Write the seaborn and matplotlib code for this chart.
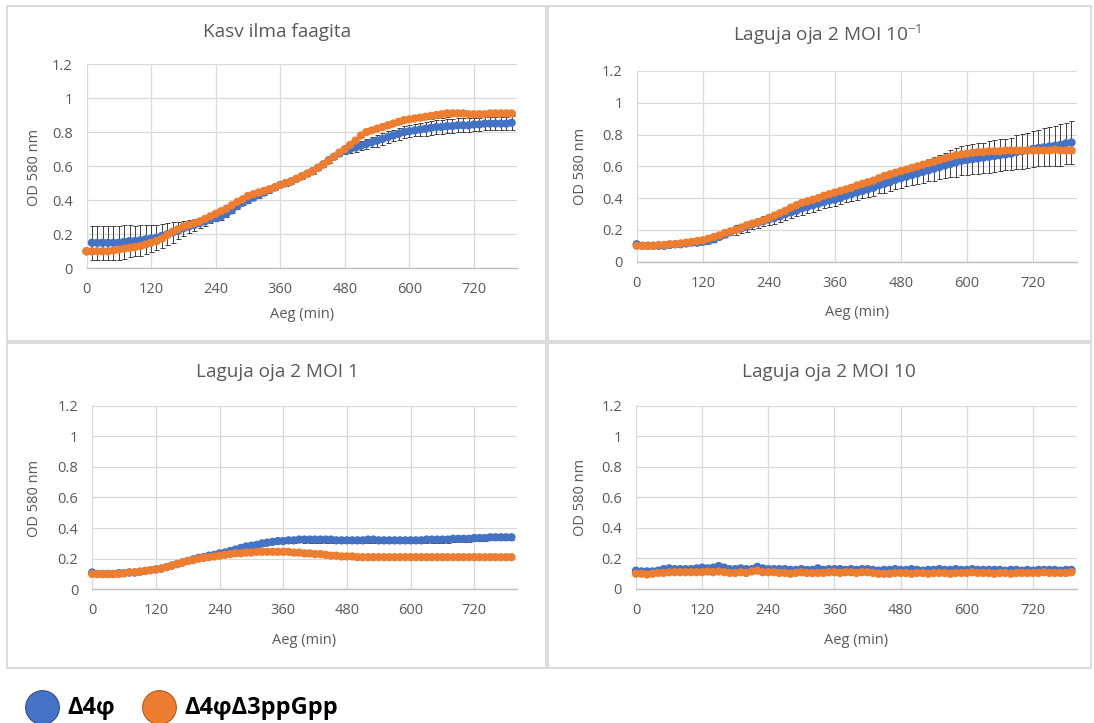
import numpy as np
import pandas as pd
import matplotlib
matplotlib.use("Agg")
import matplotlib.pyplot as plt
import seaborn as sns
from matplotlib.patches import Rectangle

sns.set_theme(style="white")
plt.rcParams['font.family'] = ['Open Sans', 'DejaVu Sans']
plt.rcParams['mathtext.fontset'] = 'custom'
plt.rcParams['mathtext.rm'] = 'Open Sans'

# ---------------- data ----------------
time_min = list(range(0, 800, 10))
strains = ["Δ4φ", "Δ4φΔ3ppGpp"]
colors = ["#4472C4", "#ED7D31"]
titles = ["Kasv ilma faagita", "Laguja oja 2 MOI 10$^{\\mathregular{-1}}$",
          "Laguja oja 2 MOI 1", "Laguja oja 2 MOI 10"]
x_ticks = [0, 120, 240, 360, 480, 600, 720]
x_ticklabels = ["0", "120", "240", "360", "480", "600", "720"]
y_ticks = [0, 0.2, 0.4, 0.6, 0.8, 1.0, 1.2]
y_ticklabels = ["0", "0.2", "0.4", "0.6", "0.8", "1", "1.2"]

p1_blue = [0.10, 0.15, 0.15, 0.15, 0.15, 0.15, 0.15, 0.155, 0.16, 0.16,
           0.165, 0.17, 0.175, 0.18, 0.19, 0.20, 0.21, 0.22, 0.235, 0.245,
           0.255, 0.265, 0.275, 0.285, 0.295, 0.305, 0.32, 0.34, 0.365, 0.385,
           0.40, 0.415, 0.43, 0.445, 0.46, 0.475, 0.49, 0.50, 0.51, 0.525,
           0.54, 0.555, 0.57, 0.59, 0.61, 0.635, 0.655, 0.675, 0.69, 0.70,
           0.71, 0.72, 0.73, 0.74, 0.75, 0.76, 0.77, 0.78, 0.79, 0.80,
           0.805, 0.81, 0.815, 0.82, 0.825, 0.83, 0.83, 0.835, 0.835, 0.84,
           0.84, 0.84, 0.845, 0.845, 0.85, 0.85, 0.85, 0.85, 0.85, 0.855]
p1_blue_err = [0.0, 0.10, 0.10, 0.10, 0.10, 0.10, 0.10, 0.10, 0.095, 0.09,
               0.09, 0.085, 0.08, 0.075, 0.07, 0.065, 0.06, 0.05, 0.045, 0.04,
               0.035, 0.03, 0.025, 0.02, 0.02, 0.02, 0.02, 0.015, 0.015, 0.015,
               0.015, 0.015, 0.015, 0.015, 0.015, 0.015, 0.015, 0.015, 0.015, 0.015,
               0.015, 0.015, 0.015, 0.015, 0.015, 0.015, 0.015, 0.015, 0.02, 0.02,
               0.025, 0.025, 0.03, 0.03, 0.035, 0.035, 0.035, 0.035, 0.035, 0.035,
               0.035, 0.035, 0.04, 0.04, 0.04, 0.04, 0.04, 0.04, 0.04, 0.04,
               0.04, 0.04, 0.04, 0.04, 0.04, 0.04, 0.04, 0.04, 0.04, 0.04]
p1_orange = [0.10, 0.10, 0.10, 0.10, 0.10, 0.105, 0.11, 0.115, 0.12, 0.125,
             0.13, 0.14, 0.15, 0.16, 0.175, 0.195, 0.215, 0.23, 0.245, 0.255,
             0.265, 0.275, 0.29, 0.305, 0.32, 0.335, 0.35, 0.37, 0.39, 0.405,
             0.425, 0.435, 0.445, 0.455, 0.465, 0.475, 0.49, 0.50, 0.51, 0.525,
             0.54, 0.555, 0.57, 0.59, 0.61, 0.63, 0.655, 0.68, 0.70, 0.725,
             0.75, 0.78, 0.80, 0.81, 0.82, 0.83, 0.84, 0.85, 0.86, 0.87,
             0.875, 0.88, 0.885, 0.89, 0.895, 0.90, 0.905, 0.91, 0.91, 0.91,
             0.91, 0.905, 0.905, 0.905, 0.905, 0.91, 0.91, 0.91, 0.91, 0.91]
p1_orange_err = [0.01, 0.01, 0.01, 0.01, 0.01, 0.01, 0.01, 0.01, 0.01, 0.01,
                 0.01, 0.01, 0.01, 0.01, 0.01, 0.01, 0.01, 0.01, 0.01, 0.01,
                 0.01, 0.01, 0.01, 0.01, 0.01, 0.01, 0.01, 0.01, 0.01, 0.01,
                 0.01, 0.01, 0.01, 0.01, 0.01, 0.01, 0.01, 0.01, 0.01, 0.01,
                 0.01, 0.01, 0.01, 0.01, 0.01, 0.01, 0.01, 0.01, 0.01, 0.01,
                 0.01, 0.01, 0.01, 0.01, 0.01, 0.01, 0.01, 0.01, 0.01, 0.01,
                 0.01, 0.01, 0.015, 0.015, 0.02, 0.02, 0.02, 0.02, 0.015, 0.015,
                 0.01, 0.01, 0.01, 0.01, 0.01, 0.01, 0.01, 0.01, 0.01, 0.01]

p2_blue = [0.11, 0.10, 0.10, 0.10, 0.10, 0.10, 0.105, 0.11, 0.11, 0.115,
           0.12, 0.12, 0.125, 0.13, 0.14, 0.155, 0.17, 0.185, 0.20, 0.21,
           0.22, 0.235, 0.245, 0.255, 0.265, 0.275, 0.285, 0.30, 0.31, 0.32,
           0.335, 0.345, 0.355, 0.365, 0.375, 0.385, 0.39, 0.40, 0.415, 0.425,
           0.435, 0.445, 0.455, 0.465, 0.48, 0.49, 0.50, 0.515, 0.525, 0.535,
           0.545, 0.555, 0.565, 0.575, 0.585, 0.595, 0.605, 0.615, 0.625, 0.635,
           0.64, 0.645, 0.65, 0.655, 0.66, 0.665, 0.67, 0.675, 0.68, 0.69,
           0.695, 0.70, 0.71, 0.715, 0.72, 0.725, 0.73, 0.735, 0.745, 0.75]
p2_blue_err = [0.01, 0.01, 0.01, 0.01, 0.01, 0.01, 0.01, 0.01, 0.01, 0.01,
               0.015, 0.015, 0.015, 0.015, 0.015, 0.015, 0.015, 0.015, 0.03, 0.03,
               0.03, 0.03, 0.03, 0.03, 0.035, 0.035, 0.035, 0.035, 0.035, 0.035,
               0.04, 0.04, 0.04, 0.04, 0.04, 0.04, 0.04, 0.04, 0.04, 0.04,
               0.045, 0.045, 0.05, 0.05, 0.05, 0.055, 0.055, 0.06, 0.06, 0.06,
               0.065, 0.065, 0.07, 0.07, 0.075, 0.075, 0.08, 0.085, 0.09, 0.09,
               0.095, 0.095, 0.095, 0.095, 0.10, 0.10, 0.10, 0.10, 0.10, 0.105,
               0.11, 0.11, 0.115, 0.115, 0.12, 0.12, 0.125, 0.13, 0.13, 0.135]
p2_orange = [0.10, 0.10, 0.10, 0.10, 0.105, 0.105, 0.11, 0.11, 0.115, 0.12,
             0.125, 0.13, 0.135, 0.145, 0.155, 0.165, 0.18, 0.19, 0.20, 0.215,
             0.23, 0.24, 0.25, 0.26, 0.275, 0.29, 0.305, 0.32, 0.34, 0.355,
             0.37, 0.38, 0.39, 0.40, 0.415, 0.425, 0.435, 0.445, 0.455, 0.465,
             0.48, 0.49, 0.50, 0.51, 0.525, 0.54, 0.55, 0.56, 0.57, 0.58,
             0.59, 0.60, 0.61, 0.62, 0.63, 0.64, 0.65, 0.66, 0.67, 0.675,
             0.68, 0.685, 0.69, 0.69, 0.695, 0.695, 0.695, 0.70, 0.70, 0.70,
             0.70, 0.70, 0.70, 0.70, 0.70, 0.70, 0.705, 0.70, 0.70, 0.70]
p2_orange_err = [0.01, 0.01, 0.01, 0.01, 0.01, 0.01, 0.01, 0.01, 0.01, 0.01,
                 0.01, 0.01, 0.01, 0.01, 0.01, 0.01, 0.01, 0.01, 0.01, 0.01,
                 0.01, 0.01, 0.01, 0.01, 0.01, 0.01, 0.01, 0.01, 0.01, 0.01,
                 0.02, 0.02, 0.02, 0.02, 0.02, 0.02, 0.02, 0.02, 0.02, 0.02,
                 0.02, 0.02, 0.02, 0.02, 0.02, 0.02, 0.02, 0.02, 0.02, 0.02,
                 0.02, 0.02, 0.02, 0.02, 0.02, 0.02, 0.02, 0.02, 0.02, 0.02,
                 0.015, 0.015, 0.015, 0.015, 0.015, 0.015, 0.015, 0.015, 0.015, 0.015,
                 0.015, 0.015, 0.015, 0.015, 0.015, 0.015, 0.015, 0.015, 0.015, 0.015]

p3_blue = [0.11, 0.10, 0.10, 0.10, 0.10, 0.105, 0.105, 0.11, 0.11, 0.115,
           0.12, 0.125, 0.13, 0.135, 0.145, 0.155, 0.165, 0.175, 0.185, 0.195,
           0.205, 0.21, 0.22, 0.225, 0.235, 0.24, 0.25, 0.26, 0.27, 0.28,
           0.285, 0.29, 0.30, 0.305, 0.31, 0.315, 0.315, 0.32, 0.32, 0.325,
           0.325, 0.325, 0.325, 0.325, 0.325, 0.325, 0.32, 0.32, 0.32, 0.32,
           0.32, 0.32, 0.325, 0.325, 0.32, 0.32, 0.32, 0.32, 0.32, 0.32,
           0.32, 0.32, 0.32, 0.325, 0.325, 0.325, 0.325, 0.325, 0.33, 0.33,
           0.33, 0.33, 0.335, 0.335, 0.335, 0.34, 0.34, 0.34, 0.34, 0.34]
p3_blue_err = [0.01, 0.01, 0.01, 0.01, 0.01, 0.01, 0.01, 0.01, 0.01, 0.01,
               0.01, 0.01, 0.01, 0.01, 0.01, 0.01, 0.01, 0.01, 0.01, 0.01,
               0.01, 0.01, 0.01, 0.01, 0.01, 0.015, 0.015, 0.015, 0.015, 0.015,
               0.015, 0.015, 0.015, 0.015, 0.015, 0.015, 0.015, 0.015, 0.015, 0.015,
               0.02, 0.02, 0.02, 0.02, 0.02, 0.02, 0.02, 0.02, 0.02, 0.02,
               0.02, 0.02, 0.02, 0.02, 0.02, 0.02, 0.02, 0.02, 0.02, 0.02,
               0.02, 0.02, 0.02, 0.02, 0.02, 0.02, 0.02, 0.02, 0.02, 0.02,
               0.02, 0.02, 0.02, 0.02, 0.02, 0.02, 0.02, 0.02, 0.02, 0.02]
p3_orange = [0.10, 0.10, 0.10, 0.10, 0.10, 0.10, 0.105, 0.11, 0.11, 0.115,
             0.12, 0.125, 0.13, 0.135, 0.145, 0.155, 0.165, 0.175, 0.185, 0.19,
             0.20, 0.205, 0.21, 0.215, 0.22, 0.225, 0.23, 0.235, 0.235, 0.24,
             0.24, 0.245, 0.245, 0.245, 0.245, 0.245, 0.245, 0.245, 0.24, 0.24,
             0.235, 0.235, 0.23, 0.23, 0.225, 0.22, 0.22, 0.215, 0.215, 0.215,
             0.21, 0.21, 0.21, 0.21, 0.21, 0.21, 0.21, 0.21, 0.21, 0.21,
             0.21, 0.21, 0.21, 0.21, 0.21, 0.21, 0.21, 0.21, 0.21, 0.21,
             0.21, 0.21, 0.21, 0.21, 0.21, 0.21, 0.21, 0.21, 0.21, 0.21]
p3_orange_err = [0.005, 0.005, 0.005, 0.005, 0.005, 0.005, 0.005, 0.005, 0.005, 0.005,
                 0.005, 0.005, 0.005, 0.005, 0.005, 0.005, 0.005, 0.005, 0.005, 0.005,
                 0.005, 0.005, 0.005, 0.005, 0.005, 0.005, 0.005, 0.005, 0.005, 0.005,
                 0.005, 0.01, 0.01, 0.015, 0.015, 0.015, 0.015, 0.015, 0.015, 0.015,
                 0.015, 0.015, 0.015, 0.015, 0.015, 0.015, 0.015, 0.015, 0.01, 0.01,
                 0.005, 0.005, 0.005, 0.005, 0.005, 0.005, 0.005, 0.005, 0.005, 0.005,
                 0.005, 0.005, 0.005, 0.005, 0.005, 0.005, 0.005, 0.005, 0.005, 0.005,
                 0.005, 0.005, 0.005, 0.005, 0.005, 0.005, 0.005, 0.005, 0.005, 0.005]

p4_blue = [0.12, 0.115, 0.115, 0.115, 0.12, 0.13, 0.135, 0.13, 0.13, 0.13,
           0.13, 0.135, 0.14, 0.135, 0.14, 0.15, 0.14, 0.13, 0.13, 0.135,
           0.13, 0.13, 0.145, 0.135, 0.13, 0.13, 0.13, 0.13, 0.125, 0.125,
           0.13, 0.125, 0.125, 0.135, 0.125, 0.13, 0.13, 0.13, 0.125, 0.13,
           0.125, 0.13, 0.13, 0.125, 0.12, 0.125, 0.125, 0.13, 0.125, 0.125,
           0.13, 0.125, 0.12, 0.125, 0.125, 0.13, 0.125, 0.125, 0.13, 0.125,
           0.125, 0.13, 0.125, 0.125, 0.125, 0.125, 0.125, 0.12, 0.125, 0.125,
           0.12, 0.125, 0.12, 0.125, 0.125, 0.125, 0.125, 0.12, 0.125, 0.125]
p4_orange = [0.10, 0.10, 0.095, 0.10, 0.105, 0.105, 0.11, 0.11, 0.11, 0.11,
             0.11, 0.11, 0.11, 0.115, 0.11, 0.115, 0.11, 0.105, 0.105, 0.11,
             0.105, 0.115, 0.12, 0.11, 0.11, 0.11, 0.105, 0.105, 0.10, 0.105,
             0.11, 0.105, 0.105, 0.105, 0.105, 0.11, 0.11, 0.105, 0.11, 0.11,
             0.105, 0.11, 0.11, 0.105, 0.10, 0.10, 0.10, 0.105, 0.105, 0.105,
             0.10, 0.105, 0.105, 0.10, 0.105, 0.105, 0.105, 0.10, 0.105, 0.105,
             0.105, 0.11, 0.105, 0.105, 0.105, 0.10, 0.105, 0.105, 0.10, 0.105,
             0.105, 0.105, 0.105, 0.105, 0.11, 0.105, 0.105, 0.105, 0.105, 0.11]

panels_data = [
    (p1_blue, p1_blue_err, p1_orange, p1_orange_err),
    (p2_blue, p2_blue_err, p2_orange, p2_orange_err),
    (p3_blue, p3_blue_err, p3_orange, p3_orange_err),
    (p4_blue, None, p4_orange, None),
]

# ---------------- layout (pixel geometry of 1094 x 723) ----------------
W, H = 1094, 723
fig = plt.figure(figsize=(W / 100, H / 100), dpi=100)

def fx(x):
    return x / W

def fy(y):
    return 1 - y / H

# plot-area boxes: left, right(x at 800 min), top(y at 1.2), bottom(y at 0)
boxes = [(86.5, 517, 64, 268.3), (636.7, 1077, 71, 261.7),
         (92.2, 516.7, 405.7, 589.3), (636, 1077, 405.7, 589)]
title_pos = [(277, 32), (827, 35), (277, 372), (829, 372)]
ylab_pos = [(35, 167), (580, 166), (35, 498), (580, 497)]
xlab_pos = [(302, 315), (857, 313), (304, 640), (856, 640)]

grey_txt = "#595959"
for i, (l, r, t, b) in enumerate(boxes):
    ax = fig.add_axes([fx(l), fy(b), fx(r) - fx(l), fy(t) - fy(b)])
    blue, blue_err, orange, orange_err = panels_data[i]
    df = pd.DataFrame({
        "time": time_min + time_min,
        "od": blue + orange,
        "strain": [strains[0]] * len(time_min) + [strains[1]] * len(time_min),
    })
    # error bars
    for vals, errs in ((blue, blue_err), (orange, orange_err)):
        if errs is not None:
            eb = ax.errorbar(time_min, vals, yerr=errs, fmt="none",
                             ecolor="#3f3f3f", elinewidth=0.7, capsize=1.8,
                             capthick=0.7, zorder=2)
            for art in eb.lines[1] + eb.lines[2]:
                art.set_clip_on(False)
    sns.scatterplot(data=df, x="time", y="od", hue="strain",
                    palette=dict(zip(strains, colors)), s=36, linewidth=0,
                    legend=False, ax=ax, zorder=3)
    for coll in ax.collections:
        coll.set_clip_on(False)
    ax.set_xlim(0, 800)
    ax.set_ylim(0, 1.2)
    ax.set_xticks(x_ticks)
    ax.set_xticklabels(x_ticklabels)
    ax.set_yticks(y_ticks)
    ax.set_yticklabels(y_ticklabels)
    ax.tick_params(length=0, labelsize=10.5, labelcolor=grey_txt)
    ax.tick_params(axis="x", pad=10)
    ax.tick_params(axis="y", pad=10)
    ax.grid(True, color="#D9D9D9", linewidth=0.9)
    ax.set_axisbelow(True)
    for s in ("top", "right", "left"):
        ax.spines[s].set_visible(False)
    ax.spines["bottom"].set_color("#BFBFBF")
    ax.spines["bottom"].set_linewidth(1.0)
    ax.set_xlabel("")
    ax.set_ylabel("")
    ax.set_facecolor("none")

    fig.text(fx(title_pos[i][0]), fy(title_pos[i][1]), titles[i],
             ha="center", va="center", fontsize=13.7, color=grey_txt)
    fig.text(fx(ylab_pos[i][0]), fy(ylab_pos[i][1]), "OD 580 nm",
             ha="center", va="center", rotation=90, fontsize=10.5, color=grey_txt)
    fig.text(fx(xlab_pos[i][0]), fy(xlab_pos[i][1]), "Aeg (min)",
             ha="center", va="center", fontsize=10.5, color=grey_txt)

# overlay for panel frames and legend
ov = fig.add_axes([0, 0, 1, 1], zorder=-1)
ov.set_xlim(0, W)
ov.set_ylim(H, 0)
ov.axis("off")
frames = [(7, 6, 539, 335), (548, 6, 543, 335), (7, 343, 539, 325), (548, 343, 543, 325)]
for (x0, y0, w, h) in frames:
    ov.add_patch(Rectangle((x0, y0), w, h, fill=False, edgecolor="#D9D9D9", linewidth=1.3))

leg_circles = [(42, 707), (159, 707)]
leg_text = [(67, 708), (184, 708)]
edge_cols = ["#2F528F", "#AE5A21"]
for k in range(2):
    ov.scatter([leg_circles[k][0]], [leg_circles[k][1]], s=590, color=colors[k],
               edgecolor=edge_cols[k], linewidth=0.8, clip_on=False)
    ov.text(leg_text[k][0], leg_text[k][1], strains[k], ha="left", va="center",
            fontsize=17, fontweight="bold", color="black",
            family=["Open Sans", "DejaVu Sans"])

fig.savefig("out.png", dpi=100)
